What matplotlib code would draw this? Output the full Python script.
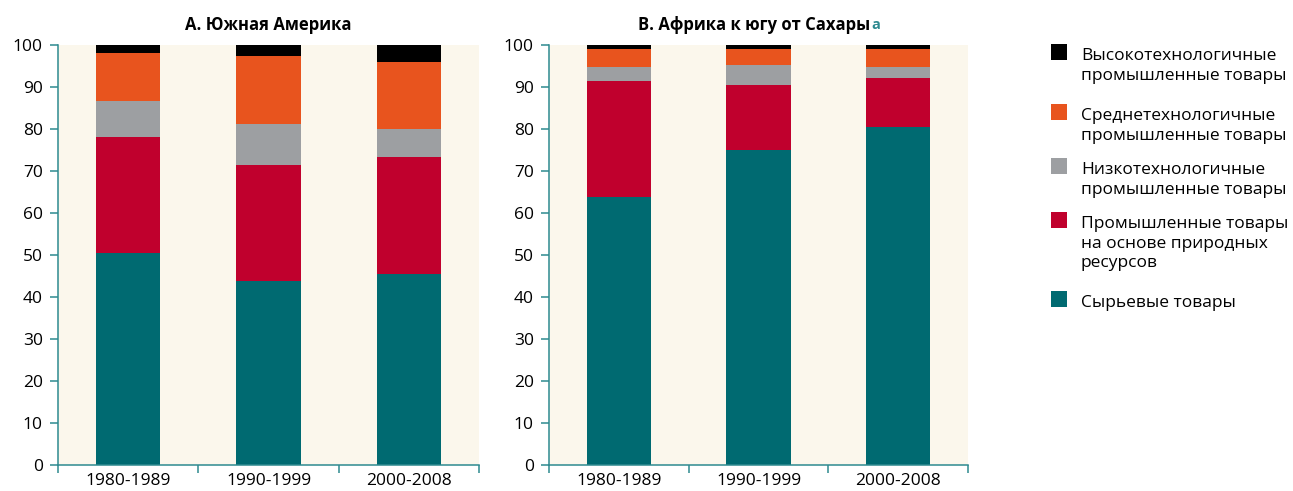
import matplotlib.pyplot as plt
from matplotlib.patches import Rectangle
import numpy as np

plt.rcParams['font.family'] = ['Open Sans', 'DejaVu Sans']

periods = ['1980-1989', '1990-1999', '2000-2008']

# shares of exports, % (bottom to top)
sa_commodity = [50.5, 43.8, 45.5]
sa_resource = [27.6, 27.7, 27.8]
sa_low = [8.6, 9.8, 6.6]
sa_medium = [11.3, 16.0, 16.0]
sa_high = [2.0, 2.7, 4.1]

af_commodity = [63.8, 75.1, 80.5]
af_resource = [27.6, 15.4, 11.7]
af_low = [3.4, 4.7, 2.6]
af_medium = [4.2, 3.8, 4.2]
af_high = [1.0, 1.0, 1.0]

labels = ['Высокотехнологичные\nпромышленные товары',
          'Среднетехнологичные\nпромышленные товары',
          'Низкотехнологичные\nпромышленные товары',
          'Промышленные товары\nна основе природных\nресурсов',
          'Сырьевые товары']
colors = ['#000000', '#E8541E', '#9D9FA2', '#C0002D', '#006A71']
axis_col = '#2E8A90'
bg = '#FBF7EC'

fig = plt.figure(figsize=(12.93, 4.91), dpi=100)
ax1 = fig.add_axes([58/1293, 26/491, 421/1293, 420/491])
ax2 = fig.add_axes([549/1293, 26/491, 419/1293, 420/491])


def draw(ax, series, title):
    x = np.arange(len(periods))
    bottom = np.zeros(len(periods))
    # series given bottom->top, colours listed top->bottom
    for vals, c in zip(series, colors[::-1]):
        ax.bar(x, vals, width=0.46, bottom=bottom, color=c, linewidth=0)
        bottom += np.array(vals)
    ax.set_facecolor(bg)
    ax.set_xlim(-0.5, 2.5)
    ax.set_ylim(0, 100)
    ax.set_yticks(range(0, 101, 10))
    ax.set_xticks([-0.5, 0.5, 1.5, 2.5])
    ax.set_xticklabels([])
    ax.set_xticks(x, minor=True)
    ax.set_xticklabels(periods, minor=True, fontsize=12.5)
    ax.tick_params(axis='x', which='minor', length=0, pad=6)
    ax.tick_params(axis='x', which='major', length=6, width=1.1, color=axis_col)
    ax.tick_params(axis='y', length=6, width=1.1, color=axis_col, pad=5, labelsize=12.5)
    for s in ['top', 'right']:
        ax.spines[s].set_visible(False)
    for s in ['left', 'bottom']:
        ax.spines[s].set_color(axis_col)
        ax.spines[s].set_linewidth(1.1)
    t = ax.set_title(title, fontsize=12, fontweight='bold', pad=10.5)
    return t


draw(ax1, [sa_commodity, sa_resource, sa_low, sa_medium, sa_high], 'А. Южная Америка')
t2 = draw(ax2, [af_commodity, af_resource, af_low, af_medium, af_high], 'В. Африка к югу от Сахары')
t2.set_x(0.49)
ax2.annotate('a', xy=(1, 0), xycoords=t2, xytext=(0.5, 4), textcoords='offset points',
             fontsize=10.5, fontweight='bold', color=axis_col, va='baseline')

# legend drawn by hand to keep squares at the first line
tops = [44, 104, 158, 212, 291]
for lab, c, y in zip(labels, colors, tops):
    fig.add_artist(Rectangle((1051/1293, 1 - (y + 16)/491), 16/1293, 16/491,
                             transform=fig.transFigure, color=c, lw=0))
    fig.text(1081/1293, 1 - (y + 4)/491, lab, fontsize=12.5, va='top', ha='left',
             linespacing=1.3)

fig.savefig('out.png', dpi=100)
